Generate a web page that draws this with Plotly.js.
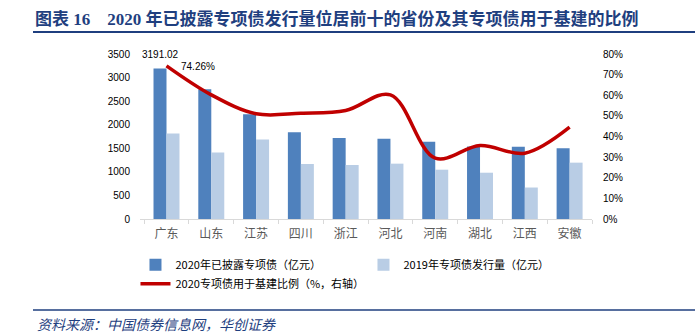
<!DOCTYPE html>
<html>
<head>
<meta charset="utf-8">
<script src="https://cdn.plot.ly/plotly-3.0.1.min.js"></script>
<style>html,body{margin:0;padding:0;background:#fff;}#chart{width:700px;height:333px;}</style>
</head>
<body>
<div id="chart"></div>
<script>
var provinces = ['广东','山东','江苏','四川','浙江','河北','河南','湖北','江西','安徽'];
var issued2020 = [3191.02, 2750, 2220, 1840, 1720, 1700, 1636, 1540, 1530, 1500];
var issued2019 = [1814, 1408, 1686, 1167, 1146, 1174, 1046, 982, 668, 1195];
var infraRatio = [74.26, 60.2, 51.0, 51.3, 52.6, 60.2, 29.5, 35.6, 31.9, 44.5];

var fontCJK = 'Noto Sans CJK SC, Liberation Sans, sans-serif';
var fontLat = 'Liberation Sans, sans-serif';

var traces = [
  {type:'bar', name:'2020年已披露专项债（亿元）', x:provinces, y:issued2020,
   marker:{color:'#4F81BD'}, hoverinfo:'skip'},
  {type:'bar', name:'2019年专项债发行量（亿元）', x:provinces, y:issued2019,
   marker:{color:'#B9CDE5'}, hoverinfo:'skip'},
  {type:'scatter', mode:'lines', name:'2020专项债用于基建比例（%，右轴）', x:provinces, y:infraRatio,
   yaxis:'y2', line:{color:'#C00000', width:3.5, shape:'spline', smoothing:1}, hoverinfo:'skip'}
];

var navy = '#1F3F7F';
var layout = {
  width:700, height:333,
  margin:{l:140, r:108, t:54, b:114},
  paper_bgcolor:'#fff', plot_bgcolor:'#fff',
  font:{family:fontCJK, size:10, color:'#000'},
  barmode:'group', bargap:0.42, bargroupgap:0,
  showlegend:true,
  legend:{orientation:'h', x:-0.01, xanchor:'left', y:-0.19, yanchor:'top',
    entrywidth:183, entrywidthmode:'pixels', itemwidth:30,
    font:{size:11, color:'#000', family:fontCJK}, tracegroupgap:0, traceorder:'normal'},
  title:{text:'<b>图表 16\u00a0\u00a0\u00a0\u00a02020 年已披露专项债发行量位居前十的省份及其专项债用于基建的比例</b>',
    x:35/700, xref:'container', xanchor:'left', y:1-19/333, yref:'container', yanchor:'middle',
    font:{family:'Liberation Serif, Noto Sans CJK SC, serif', size:17, color:navy}},
  xaxis:{showgrid:false, showline:true, linecolor:'#D9D9D9', linewidth:1,
    ticks:'outside', tickson:'boundaries', ticklen:4, tickcolor:'#D9D9D9',
    tickfont:{size:12, color:'#595959', family:fontCJK}, ticklabelstandoff:4, fixedrange:true},
  yaxis:{range:[0,3500], dtick:500, showgrid:false, zeroline:false, showline:false,
    tickfont:{size:10, color:'#000', family:fontLat}, ticklabelstandoff:9},
  yaxis2:{range:[0,80], dtick:10, overlaying:'y', side:'right', showgrid:false, zeroline:false,
    ticksuffix:'%', tickfont:{size:10, color:'#000', family:fontLat}, ticklabelstandoff:10},
  shapes:[
    {type:'line', xref:'paper', yref:'paper', x0:(33-140)/452, x1:(695-140)/452, y0:(219-32)/165, y1:(219-32)/165,
     line:{color:navy, width:2}},
    {type:'line', xref:'paper', yref:'paper', x0:(33-140)/452, x1:(695-140)/452, y0:(219-310)/165, y1:(219-310)/165,
     line:{color:navy, width:1.5}}
  ],
  annotations:[
    {text:issued2020[0].toFixed(2), xref:'x', yref:'y', x:provinces[0], y:issued2020[0],
     xanchor:'center', yanchor:'middle', xshift:-6, yshift:14, showarrow:false,
     font:{family:fontLat, size:10, color:'#000'}},
    {text:infraRatio[0].toFixed(2)+'%', xref:'x', yref:'y2', x:provinces[0], y:infraRatio[0],
     xanchor:'left', yanchor:'middle', xshift:12, yshift:-1, showarrow:false,
     font:{family:fontLat, size:10, color:'#000'}},
    {text:'<i>资料来源：中国债券信息网，华创证券</i>', xref:'paper', yref:'paper',
     x:(35-140)/452, y:(219-324)/165, xanchor:'left', yanchor:'middle', showarrow:false,
     font:{family:fontCJK, size:14, color:navy}}
  ]
};

Plotly.newPlot('chart', traces, layout, {displayModeBar:false, staticPlot:true});
</script>
</body>
</html>
